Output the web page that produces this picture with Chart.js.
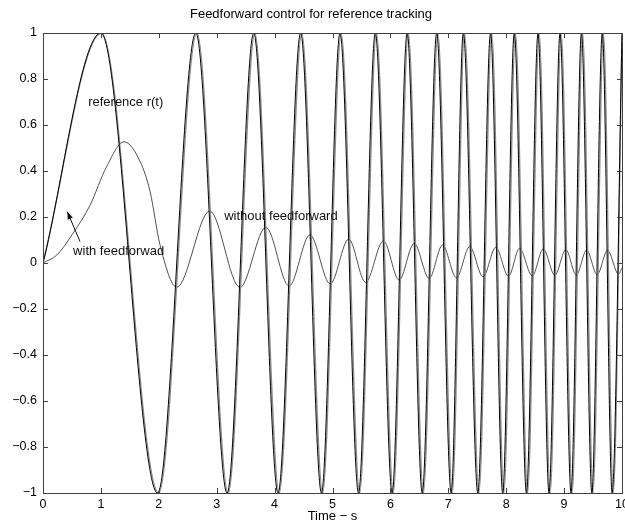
<!DOCTYPE html>
<html>
<head>
<meta charset="utf-8">
<script src="https://cdn.jsdelivr.net/npm/chart.js@4.4.1/dist/chart.umd.min.js"></script>
<style>
    body { margin: 0; background: #fff; }
    canvas { display: block; }
</style>
</head>
<body>
<canvas id="myChart" width="625" height="525"></canvas>
<script>

// reference r(t): start + peaks / troughs
const refTime = [0, 1.00, 1.98, 2.64, 3.18, 3.64, 4.06, 4.45, 4.81, 5.13, 5.45, 5.74, 6.03, 6.29, 6.55, 6.80,
    7.05, 7.26, 7.51, 7.73, 7.94, 8.14, 8.35, 8.55, 8.74, 8.93, 9.12, 9.30, 9.48, 9.66, 9.83, 10.0];
const refValue = [0, 1, -1, 1, -1, 1, -1, 1, -1, 1, -1, 1, -1, 1, -1, 1,
    -1, 1, -1, 1, -1, 1, -1, 1, -1, 1, -1, 1, -1, 1, -1, 1];

// output with feedforward (tracks reference, slight lag)
const ffTime = [0, 1.01, 2.00, 2.66, 3.20, 3.66, 4.08, 4.47, 4.83, 5.15, 5.47, 5.76, 6.05, 6.31, 6.57, 6.82,
    7.07, 7.28, 7.53, 7.75, 7.96, 8.16, 8.37, 8.57, 8.76, 8.95, 9.14, 9.32, 9.50, 9.68, 9.85, 10.0];
const ffValue = [0, 1, -1, 1, -1, 1, -1, 1, -1, 1, -1, 1, -1, 1, -1, 1,
    -1, 1, -1, 1, -1, 1, -1, 1, -1, 1, -1, 1, -1, 1, -1, 0.99];

// output without feedforward
const noffTime = [0, 0.24, 0.52, 0.81, 1.10, 1.40, 1.68, 1.85, 2.02, 2.31, 2.88, 3.40, 3.85, 4.25, 4.61, 4.96,
    5.28, 5.57, 5.88, 6.15, 6.41, 6.67, 6.90, 7.14, 7.37, 7.60, 7.82, 8.04, 8.23, 8.45, 8.64, 8.84,
    9.03, 9.21, 9.39, 9.57, 9.75, 9.94, 10.0];
const noffValue = [0, 0.035, 0.13, 0.25, 0.42, 0.527, 0.44, 0.31, 0.08, -0.105, 0.226, -0.106, 0.155, -0.100, 0.122, -0.091,
    0.104, -0.084, 0.096, -0.074, 0.085, -0.067, 0.078, -0.064, 0.071, -0.060, 0.068, -0.058, 0.064, -0.056, 0.061, -0.053,
    0.058, -0.052, 0.056, -0.051, 0.055, -0.048, -0.02];

const titleText = 'Feedforward control for reference tracking';
const xLabel = 'Time \u2212 s';
const xTicks = [0, 10, 1];      // min, max, step
const yTicks = [-1, 1, 0.2];

const notes = [
    { text: 'reference r(t)', x: 0.78, y: 0.70 },
    { text: 'with feedforwad', x: 0.52, y: 0.052 },
    { text: 'without feedforward', x: 3.13, y: 0.204 }
];
const arrow = { from: [0.64, 0.093], to: [0.42, 0.223] };

const FONT = "'Liberation Sans', Arial, Helvetica, sans-serif";

function pairs(ts, vs) {
    return ts.map((t, i) => ({ x: t, y: vs[i] }));
}

function fmt(v) {
    let s = String(Math.round(v * 10) / 10);
    return s.replace('-', '\u2212');
}

// matlab like box with inward ticks + text notes
const boxPlugin = {
    id: 'boxPlugin',
    afterDraw(chart) {
        const ctx = chart.ctx;
        const a = chart.chartArea;
        const xs = chart.scales.x;
        const ys = chart.scales.y;

        ctx.save();
        ctx.strokeStyle = '#404040';
        ctx.lineWidth = 1;
        ctx.beginPath();
        xs.ticks.forEach(t => {
            const px = Math.round(xs.getPixelForValue(t.value)) + 0.5;
            ctx.moveTo(px, a.bottom);
            ctx.lineTo(px, a.bottom - 5);
            ctx.moveTo(px, a.top);
            ctx.lineTo(px, a.top + 5);
        });
        ys.ticks.forEach(t => {
            const py = Math.round(ys.getPixelForValue(t.value)) + 0.5;
            ctx.moveTo(a.left, py);
            ctx.lineTo(a.left + 5, py);
            ctx.moveTo(a.right, py);
            ctx.lineTo(a.right - 5, py);
        });
        ctx.stroke();
        ctx.strokeRect(Math.round(a.left) + 0.5, Math.round(a.top) + 0.5,
            Math.round(a.right - a.left), Math.round(a.bottom - a.top));

        ctx.fillStyle = '#111';
        ctx.font = '13px ' + FONT;
        ctx.textBaseline = 'middle';
        ctx.textAlign = 'left';
        notes.forEach(n => {
            ctx.fillText(n.text, xs.getPixelForValue(n.x), ys.getPixelForValue(n.y));
        });

        // arrow
        const x1 = xs.getPixelForValue(arrow.from[0]), y1 = ys.getPixelForValue(arrow.from[1]);
        const x2 = xs.getPixelForValue(arrow.to[0]), y2 = ys.getPixelForValue(arrow.to[1]);
        const ang = Math.atan2(y2 - y1, x2 - x1);
        ctx.strokeStyle = '#111';
        ctx.beginPath();
        ctx.moveTo(x1, y1);
        ctx.lineTo(x2, y2);
        ctx.stroke();
        ctx.beginPath();
        ctx.moveTo(x2, y2);
        ctx.lineTo(x2 - 8 * Math.cos(ang - 0.35), y2 - 8 * Math.sin(ang - 0.35));
        ctx.lineTo(x2 - 8 * Math.cos(ang + 0.35), y2 - 8 * Math.sin(ang + 0.35));
        ctx.closePath();
        ctx.fill();
        ctx.restore();
    }
};

const data = {
    datasets: [
        {
            label: 'reference r(t)',
            data: pairs(refTime, refValue),
            borderColor: '#000000',
            borderWidth: 1
        },
        {
            label: 'with feedforward',
            data: pairs(ffTime, ffValue),
            borderColor: '#8a8a8a',
            borderWidth: 1.3
        },
        {
            label: 'without feedforward',
            data: pairs(noffTime, noffValue),
            borderColor: '#505050',
            borderWidth: 1
        }
    ]
};

const config = {
    type: 'line',
    data,
    options: {
        responsive: false,
        animation: false,
        parsing: false,
        layout: { padding: { left: 0, right: 3, top: 0, bottom: 0 } },
        elements: {
            point: { radius: 0 },
            line: { cubicInterpolationMode: 'monotone', fill: false }
        },
        plugins: {
            legend: { display: false },
            tooltip: { enabled: false },
            title: {
                display: true,
                text: titleText,
                color: '#000',
                font: { family: FONT, size: 13, weight: 'normal' },
                padding: { top: 7, bottom: 10.4 }
            }
        },
        scales: {
            x: {
                type: 'linear',
                min: xTicks[0],
                max: xTicks[1],
                grid: { display: false, drawTicks: false },
                border: { display: false },
                ticks: {
                    stepSize: xTicks[2],
                    autoSkip: false,
                    maxRotation: 0,
                    padding: 4,
                    color: '#000',
                    font: { family: FONT, size: 12.5 }
                },
                title: {
                    display: true,
                    text: xLabel,
                    color: '#000',
                    font: { family: FONT, size: 13 },
                    padding: { top: 0, bottom: 1 }
                },
                afterFit: s => { s.height = 32; s.paddingLeft = 0; s.paddingRight = 0; }
            },
            y: {
                type: 'linear',
                min: yTicks[0],
                max: yTicks[1],
                grid: { display: false, drawTicks: false },
                border: { display: false },
                ticks: {
                    stepSize: yTicks[2],
                    autoSkip: false,
                    padding: 6,
                    color: '#000',
                    font: { family: FONT, size: 12.5 },
                    callback: v => fmt(v)
                },
                afterFit: s => { s.width = 43; s.paddingTop = 0; s.paddingBottom = 0; }
            }
        }
    },
    plugins: [boxPlugin]
};

var myChart = new Chart(document.getElementById('myChart'), config);

</script>
</body>
</html>
